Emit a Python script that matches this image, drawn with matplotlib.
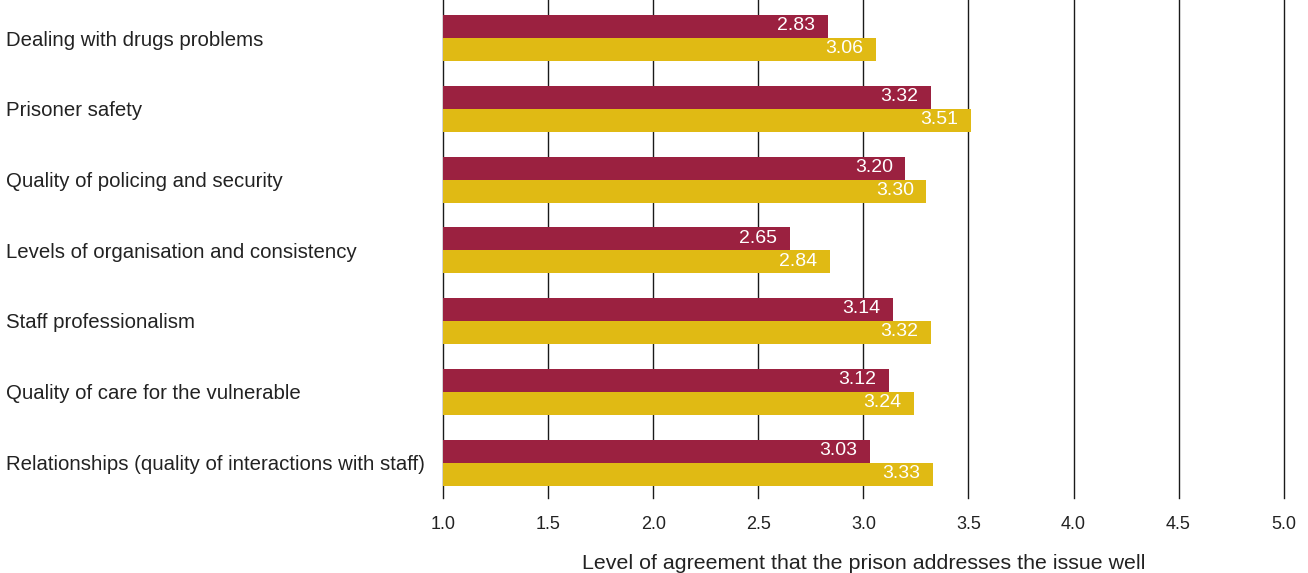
import matplotlib.pyplot as plt
import numpy as np

plt.rcParams['font.family'] = ['Liberation Sans', 'DejaVu Sans']

issues = ['Dealing with drugs problems',
          'Prisoner safety',
          'Quality of policing and security',
          'Levels of organisation and consistency',
          'Staff professionalism',
          'Quality of care for the vulnerable',
          'Relationships (quality of interactions with staff)']
series_a = [2.83, 3.32, 3.20, 2.65, 3.14, 3.12, 3.03]
series_b = [3.06, 3.51, 3.30, 2.84, 3.32, 3.24, 3.33]
xticks = [1.0, 1.5, 2.0, 2.5, 3.0, 3.5, 4.0, 4.5, 5.0]

red = '#9B2140'
gold = '#E0BA14'
txt = '#222222'

fig = plt.figure(figsize=(13.08, 5.73), dpi=100)
ax = fig.add_axes([0.339, 0.131, 0.6423, 0.869])

y = np.arange(len(issues))
h = 0.325
base = 1.0
ax.barh(y - h / 2, np.array(series_a) - base, left=base, height=h, color=red, zorder=3)
ax.barh(y + h / 2, np.array(series_b) - base, left=base, height=h, color=gold, zorder=3)

# value labels sit inside the bar ends
for yi, a, b in zip(y, series_a, series_b):
    ax.text(a - 0.06, yi - h / 2 - 0.01, f'{a:.2f}', ha='right', va='center',
            color='white', fontsize=14, zorder=4)
    ax.text(b - 0.06, yi + h / 2 - 0.01, f'{b:.2f}', ha='right', va='center',
            color='white', fontsize=14, zorder=4)

ax.set_xlim(1.0, 5.0)
ax.set_ylim(6.5, -0.54)
ax.set_xticks(xticks)
ax.set_xticklabels([f'{t:.1f}' for t in xticks], fontsize=13, color=txt)
ax.set_yticks([])
ax.tick_params(axis='x', length=0, pad=13)
for s in ax.spines.values():
    s.set_visible(False)
for t in xticks:
    ax.axvline(t, color='#1a1a1a', lw=1.0, zorder=1, clip_on=False)

for yi, name in zip(y, issues):
    fig.text(6 / 1308, 1 - (40 + yi * 70.67) / 573, name, ha='left', va='center',
             fontsize=14.7, color=txt)

ax.set_xlabel('Level of agreement that the prison addresses the issue well',
              fontsize=15.4, color=txt, labelpad=15)

fig.savefig('out.png', dpi=100)
